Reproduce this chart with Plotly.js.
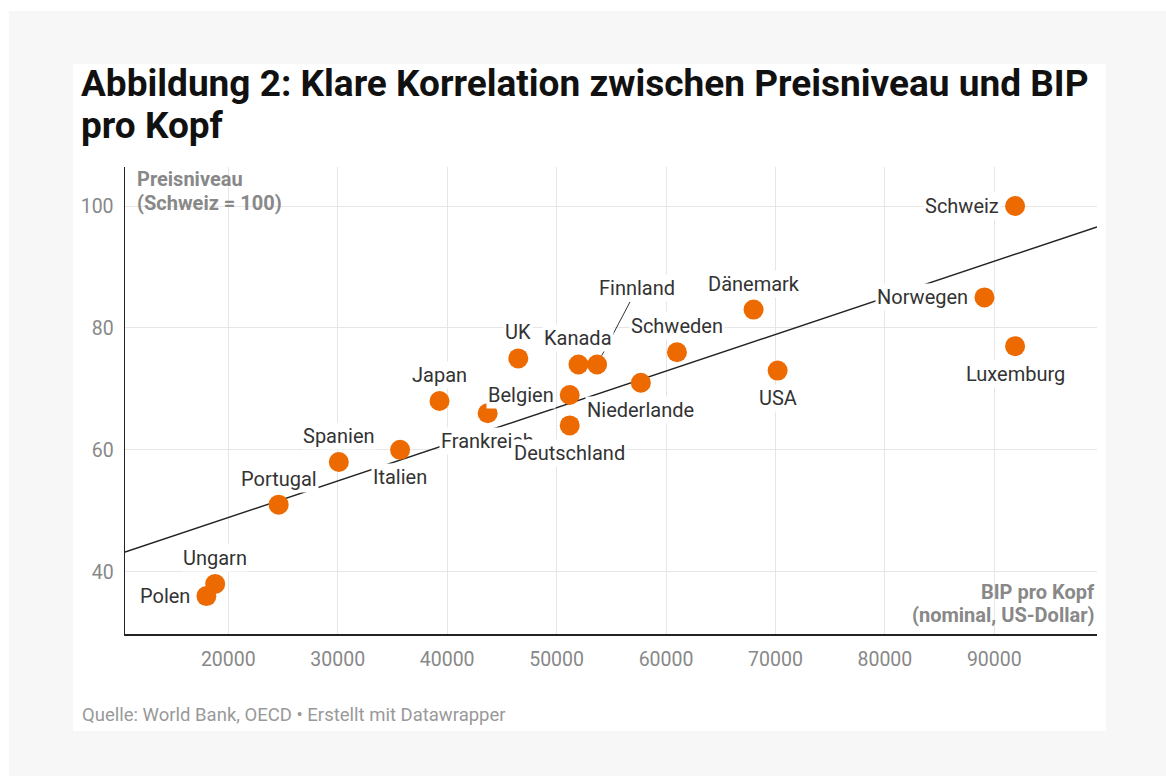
<!DOCTYPE html>
<html>
<head>
<meta charset="utf-8">
<script src="https://cdn.plot.ly/plotly-3.0.1.min.js"></script>
<style>
  html, body { margin: 0; padding: 0; background: #ffffff; width: 1166px; height: 776px; overflow: hidden; }
  #outer { position: absolute; left: 9px; top: 11px; width: 1157px; height: 765px; background: #f7f7f7; }
  #panel { position: absolute; left: 73px; top: 64px; width: 1033px; height: 667px; background: #ffffff; }
  #chart { position: absolute; left: 0; top: 0; width: 1166px; height: 776px; }
</style>
</head>
<body>
<div id="outer"></div>
<div id="panel"></div>
<div id="chart"></div>
<script>
// ---- Data ----
const countries = ["Schweiz", "Norwegen", "Luxemburg", "Dänemark", "USA", "Schweden", "Niederlande",
  "Finnland", "Kanada", "Belgien", "Frankreich", "Deutschland", "UK", "Japan", "Italien",
  "Spanien", "Portugal", "Ungarn", "Polen"];
const bipProKopf = [91900, 89100, 91900, 68000, 70200, 61000, 57700,
  53700, 52000, 51200, 43700, 51200, 46500, 39300, 35700,
  30100, 24600, 18800, 18000];
const preisniveau = [100, 85, 77, 83, 73, 76, 71,
  74, 74, 69, 66, 64, 75, 68, 60,
  58, 51, 38, 36];
const xTickVals = [20000, 30000, 40000, 50000, 60000, 70000, 80000, 90000];
const xTickText = ["20000", "30000", "40000", "50000", "60000", "70000", "80000", "90000"];
const yTickVals = [40, 60, 80, 100];
const yTickText = ["40", "60", "80", "100"];

const titleLines = ["Abbildung 2: Klare Korrelation zwischen Preisniveau und BIP", "pro Kopf"];
const yTitleLines = ["Preisniveau", "(Schweiz = 100)"];
const xTitleLines = ["BIP pro Kopf", "(nominal, US-Dollar)"];
const sourceText = "Quelle: World Bank, OECD • Erstellt mit Datawrapper";

// ---- Label placement (layout only) ----
const labelSide = {
  "Schweiz": "left", "Norwegen": "left", "Luxemburg": "below", "Dänemark": "above",
  "USA": "below", "Schweden": "above", "Niederlande": "below", "Finnland": "arrow",
  "Kanada": "above", "Belgien": "left", "Frankreich": "below", "Deutschland": "below",
  "UK": "above", "Japan": "above", "Italien": "below", "Spanien": "above",
  "Portugal": "above", "Ungarn": "above", "Polen": "left"
};

const xRange = [10560, 99385];
const yRange = [29.78, 106.4];

// ---- Linear regression from data ----
const n = bipProKopf.length;
const mx = bipProKopf.reduce((a, b) => a + b, 0) / n;
const my = preisniveau.reduce((a, b) => a + b, 0) / n;
let sxy = 0, sxx = 0;
for (let i = 0; i < n; i++) {
  sxy += (bipProKopf[i] - mx) * (preisniveau[i] - my);
  sxx += (bipProKopf[i] - mx) * (bipProKopf[i] - mx);
}
const slope = sxy / sxx;
const intercept = my - slope * mx;
const trendX = xRange.slice();
const trendY = trendX.map(x => intercept + slope * x);

const FONT = "Roboto, 'Noto Sans', sans-serif";
const ORANGE = "#ed6a00";

const traces = [
  {
    x: trendX, y: trendY, type: "scatter", mode: "lines",
    line: { color: "#222222", width: 1.5 }, hoverinfo: "skip", cliponaxis: true
  },
  {
    x: bipProKopf, y: preisniveau, text: countries, type: "scatter", mode: "markers",
    marker: { color: ORANGE, size: 20, line: { width: 0 } }, hoverinfo: "text", cliponaxis: false
  }
];

const labelFont = { family: FONT, size: 20, color: "#333333" };
const annotations = [];
countries.forEach((c, i) => {
  const side = labelSide[c];
  const a = {
    x: bipProKopf[i], y: preisniveau[i], xref: "x", yref: "y", text: c,
    font: labelFont, bgcolor: "#ffffff", borderpad: 1, showarrow: false
  };
  if (side === "above") { a.xanchor = "center"; a.yanchor = "middle"; a.yshift = 26; }
  else if (side === "below") { a.xanchor = "center"; a.yanchor = "middle"; a.yshift = -27.5; }
  else if (side === "left") { a.xanchor = "right"; a.yanchor = "middle"; a.xshift = -14; }
  else if (side === "arrow") {
    a.showarrow = true; a.arrowhead = 0; a.arrowwidth = 1; a.arrowcolor = "#333333";
    a.ax = 40; a.ay = -76; a.standoff = 10;
  }
  annotations.push(a);
});

function textAnn(text, x, y, xshift, yshift, xanchor, font) {
  return {
    xref: "paper", yref: "paper", x: x, y: y, xshift: xshift, yshift: yshift,
    xanchor: xanchor, yanchor: "top", align: xanchor, showarrow: false, borderpad: 0,
    text: text, font: font
  };
}
const titleFont = { family: FONT, size: 37, weight: 700, color: "#111111" };
const axisTitleFont = { family: FONT, size: 20, weight: 700, color: "#888888" };
// Title (two lines)
annotations.push(textAnn(titleLines[0], 0, 1, -45, 106, "left", titleFont));
annotations.push(textAnn(titleLines[1], 0, 1, -45, 64.5, "left", titleFont));
// Y axis title
annotations.push(textAnn(yTitleLines[0], 0, 1, 11, 1, "left", axisTitleFont));
annotations.push(textAnn(yTitleLines[1], 0, 1, 11, -23, "left", axisTitleFont));
// X axis title
annotations.push(textAnn(xTitleLines[0], 1, 0, -1, 55.3, "right", axisTitleFont));
annotations.push(textAnn(xTitleLines[1], 1, 0, -1, 32.3, "right", axisTitleFont));
// Source
annotations.push(textAnn(sourceText, 0, 0, -44, -69, "left",
  { family: FONT, size: 18.5, color: "#999999" }));

const layout = {
  width: 1166, height: 776,
  margin: { l: 125, r: 69, t: 167, b: 142, pad: 0 },
  paper_bgcolor: "rgba(0,0,0,0)", plot_bgcolor: "rgba(0,0,0,0)",
  showlegend: false,
  font: { family: FONT },
  xaxis: {
    range: xRange, tickvals: xTickVals, ticktext: xTickText,
    showgrid: true, gridcolor: "#e6e6e6", gridwidth: 1, zeroline: false,
    showline: true, linecolor: "#222222", linewidth: 1.5, ticks: "",
    ticklabelstandoff: 7,
    tickfont: { family: FONT, size: 19.5, color: "#888888" }, fixedrange: true
  },
  yaxis: {
    range: yRange, tickvals: yTickVals, ticktext: yTickText,
    showgrid: true, gridcolor: "#e6e6e6", gridwidth: 1, zeroline: false,
    showline: true, linecolor: "#222222", linewidth: 1.5, ticks: "",
    ticklabelstandoff: 6,
    tickfont: { family: FONT, size: 19.5, color: "#888888" }, fixedrange: true
  },
  annotations: annotations,
  hovermode: false
};

Plotly.newPlot("chart", traces, layout, { displayModeBar: false, staticPlot: true });
</script>
</body>
</html>
